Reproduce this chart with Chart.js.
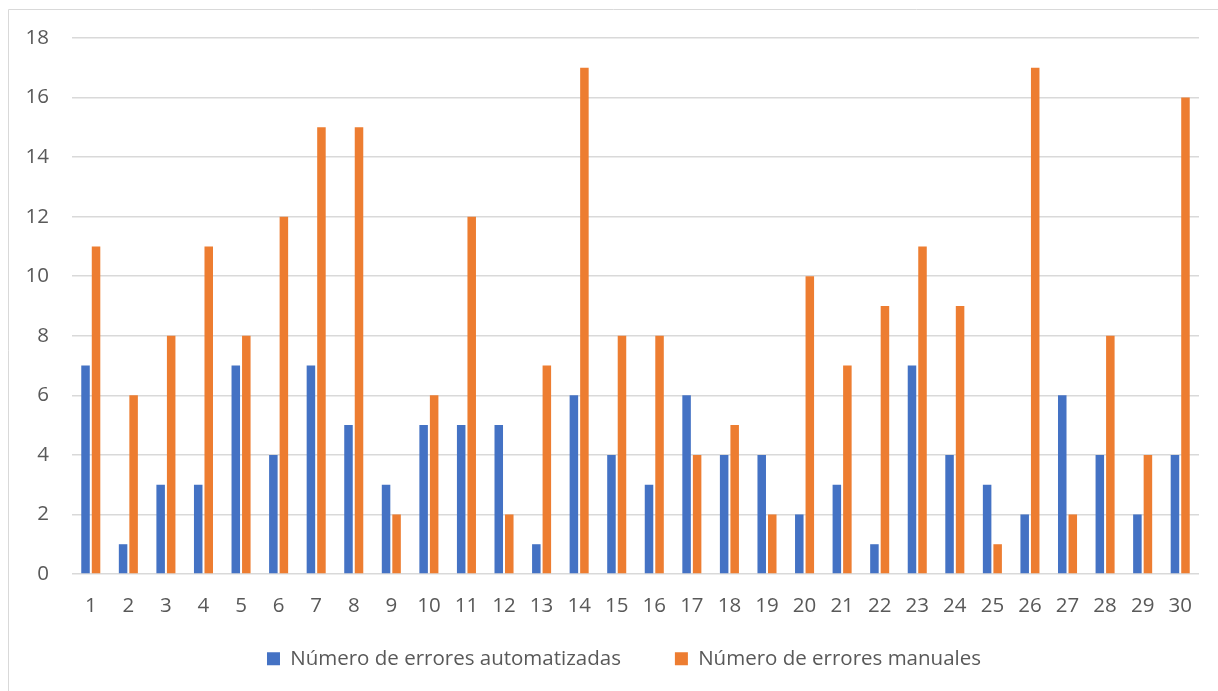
<!DOCTYPE html>
<html>
<head>
<meta charset="utf-8">
<script src="https://cdn.jsdelivr.net/npm/chart.js@4/dist/chart.umd.min.js"></script>
<style>
  html, body { margin: 0; padding: 0; background: #fff; overflow: hidden; }
  #wrap { position: absolute; left: 0; top: 0; width: 1218px; height: 691px; }
</style>
</head>
<body>
<div id="wrap"><canvas id="c" width="1218" height="691"></canvas></div>
<script>
const categories = ['1','2','3','4','5','6','7','8','9','10','11','12','13','14','15','16','17','18','19','20','21','22','23','24','25','26','27','28','29','30'];
const erroresAutomatizadas = [7,1,3,3,7,4,7,5,3,5,5,5,1,6,4,3,6,4,4,2,3,1,7,4,3,2,6,4,2,4];
const erroresManuales = [11,6,8,11,8,12,15,15,2,6,12,2,7,17,8,8,4,5,2,10,7,9,11,9,1,17,2,8,4,16];
const seriesNames = ['Número de errores automatizadas', 'Número de errores manuales'];
const yTicks = { min: 0, max: 18, step: 2 };

const FONT = '"Open Sans", "Liberation Sans", sans-serif';
const TEXT = '#595959';

// light frame around the whole chart
const framePlugin = {
  id: 'frame',
  beforeDraw(chart) {
    const ctx = chart.ctx;
    ctx.save();
    ctx.strokeStyle = '#d9d9d9';
    ctx.lineWidth = 1;
    ctx.beginPath();
    ctx.moveTo(8.5, 700);
    ctx.lineTo(8.5, 9.5);
    ctx.lineTo(1230, 9.5);
    ctx.stroke();
    ctx.restore();
  }
};

// centre the legend row under the plot area and give it room below the axis labels
const legendPlacement = {
  id: 'legendPlacement',
  afterLayout(chart) {
    const lg = chart.legend;
    if (!lg) return;
    const dx = 24.5;
    lg.left += dx;
    lg.right += dx;
    lg.top = 594.5;
    lg.bottom = 691;
    lg.width = lg.right - lg.left;
    lg.height = lg.bottom - lg.top;
  }
};

new Chart(document.getElementById('c'), {
  type: 'bar',
  data: {
    labels: categories,
    datasets: [
      { label: seriesNames[0], data: erroresAutomatizadas, backgroundColor: '#4472C4' },
      { label: seriesNames[1], data: erroresManuales, backgroundColor: '#ED7D31' }
    ]
  },
  options: {
    responsive: false,
    animation: false,
    devicePixelRatio: 1,
    categoryPercentage: 0.56,
    barPercentage: 0.81,
    layout: { padding: { left: 0, right: 19, top: 38, bottom: 27 } },
    plugins: {
      tooltip: { enabled: false },
      legend: {
        position: 'bottom',
        maxHeight: 40,
        labels: {
          boxWidth: 13,
          boxHeight: 13,
          padding: 54,
          color: TEXT,
          font: { family: FONT, size: 20.5 }
        }
      }
    },
    scales: {
      x: {
        grid: { display: false },
        border: { display: false },
        ticks: { color: TEXT, font: { family: FONT, size: 20.5 }, padding: 12, maxRotation: 0, autoSkip: false },
        afterFit(scale) { scale.height = 50; }
      },
      y: {
        min: yTicks.min,
        max: yTicks.max,
        ticks: { stepSize: yTicks.step, color: TEXT, font: { family: FONT, size: 20.5 }, padding: 23 },
        grid: { color: '#d9d9d9', lineWidth: 1.5, drawTicks: false },
        border: { display: false },
        afterFit(scale) { scale.width = 72; }
      }
    }
  },
  plugins: [framePlugin, legendPlacement]
});
</script>
</body>
</html>
